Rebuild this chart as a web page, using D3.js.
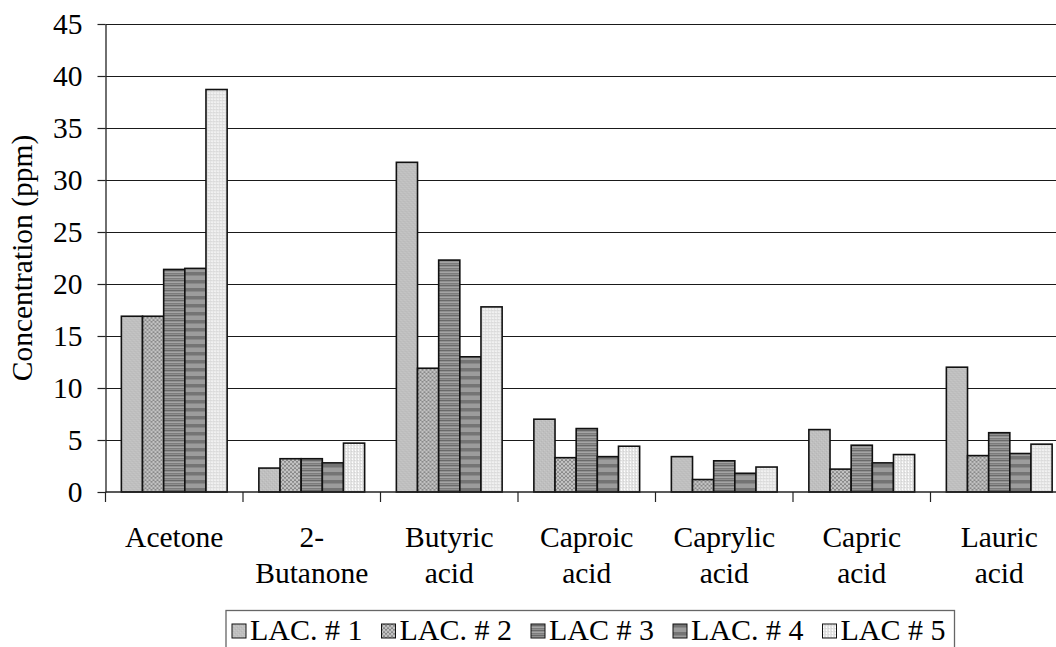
<!DOCTYPE html>
<html>
<head>
<meta charset="utf-8">
<script src="https://cdn.jsdelivr.net/npm/d3@7"></script>
<style>
  html, body { margin: 0; padding: 0; background: #fff; }
  svg { display: block; }
</style>
</head>
<body>
<svg id="chart" width="1056" height="647"></svg>
<script>
// Volatile compounds measured for five LAC cultures (ppm)
const categories = [["Acetone"], ["2-", "Butanone"], ["Butyric", "acid"], ["Caproic", "acid"],
                    ["Caprylic", "acid"], ["Capric", "acid"], ["Lauric", "acid"]];
const seriesNames = ["LAC. # 1", "LAC. # 2", "LAC # 3", "LAC. # 4", "LAC # 5"];
const lac1 = [16.9, 2.3, 31.7, 7.0, 3.4, 6.0, 12.0];
const lac2 = [16.9, 3.2, 11.9, 3.3, 1.2, 2.2, 3.5];
const lac3 = [21.4, 3.2, 22.3, 6.1, 3.0, 4.5, 5.7];
const lac4 = [21.5, 2.8, 13.0, 3.4, 1.8, 2.8, 3.7];
const lac5 = [38.7, 4.7, 17.8, 4.4, 2.4, 3.6, 4.6];
const yTicks = [0, 5, 10, 15, 20, 25, 30, 35, 40, 45];
const yTitle = "Concentration (ppm)";

const seriesValues = [lac1, lac2, lac3, lac4, lac5];
const catKeys = categories.map(c => c.join(" "));

const SERIF = "Liberation Serif, Tinos, Times New Roman, DejaVu Serif, serif";
const FONT = 29.5;
const svg = d3.select("#chart").attr("font-family", SERIF);

// plot frame (the right end runs slightly past the canvas)
const plotLeft = 105.5, plotRight = 1068, plotTop = 24, plotBottom = 492;

const x = d3.scaleBand().domain(catKeys).range([plotLeft, plotRight]).paddingInner(0).paddingOuter(0);
const gapRatio = 1.5; // gap between groups relative to bar width
const barW = x.bandwidth() / (seriesNames.length + gapRatio);
const xInner = d3.scaleBand().domain(d3.range(seriesNames.length))
  .range([barW * gapRatio / 2, barW * gapRatio / 2 + barW * seriesNames.length]);
const y = d3.scaleLinear().domain([0, 45]).range([plotBottom, plotTop]);

// fill patterns for each series
const defs = svg.append("defs");
function pat(id, w, h, bg, rects) {
  const p = defs.append("pattern").attr("id", id).attr("patternUnits", "userSpaceOnUse")
    .attr("width", w).attr("height", h);
  p.append("rect").attr("width", w).attr("height", h).attr("fill", bg);
  rects.forEach(r => p.append("rect").attr("x", r[0]).attr("y", r[1])
    .attr("width", r[2]).attr("height", r[3]).attr("fill", r[4]));
}
// 1: light grey with faint grain
pat("p1", 4, 4, "#bfbfbf", [[0,0,1,1,"#c8c8c8"],[2,2,1,1,"#c8c8c8"],[1,3,1,1,"#b6b6b6"],[3,1,1,1,"#b6b6b6"]]);
// 2: fine crosshatch
pat("p2", 4, 4, "#c2c2c2", [[0,0,1,1,"#8a8a8a"],[3,0,1,1,"#8a8a8a"],[1,1,1,1,"#8a8a8a"],[2,1,1,1,"#8a8a8a"],
                            [1,2,1,1,"#9a9a9a"],[2,2,1,1,"#9a9a9a"],[0,3,1,1,"#9a9a9a"],[3,3,1,1,"#9a9a9a"]]);
// 3: narrow horizontal stripes
pat("p3", 4, 5, "#909090", [[0,0,4,1,"#6a6a6a"],[0,2,4,1,"#a5a5a5"],[0,3,4,1,"#7c7c7c"]]);
// 4: wide horizontal bands
pat("p4", 4, 8, "#9c9c9c", [[0,0,4,3,"#747474"],[0,3,4,1,"#888888"]]);
// 5: pale dotted columns
pat("p5", 3, 3, "#e2e2e2", [[1,0,1,1,"#ffffff"],[1,2,1,1,"#f4f4f4"],[0,1,1,1,"#d4d4d4"]]);
const fills = ["url(#p1)", "url(#p2)", "url(#p3)", "url(#p4)", "url(#p5)"];

// horizontal gridlines
svg.append("g").selectAll("line").data(yTicks.filter(t => t > 0)).join("line")
  .attr("x1", plotLeft).attr("x2", plotRight)
  .attr("y1", d => Math.round(y(d)) + 0.5).attr("y2", d => Math.round(y(d)) + 0.5)
  .attr("stroke", "#1a1a1a").attr("stroke-width", 1.2);

// bars
const groups = svg.append("g").selectAll("g").data(catKeys).join("g")
  .attr("transform", d => `translate(${x(d)},0)`);
groups.selectAll("rect")
  .data((d, ci) => seriesValues.map((vals, si) => ({ si, v: vals[ci] })))
  .join("rect")
  .attr("x", d => xInner(d.si))
  .attr("width", xInner.bandwidth())
  .attr("y", d => y(d.v))
  .attr("height", d => y(0) - y(d.v))
  .attr("fill", d => fills[d.si])
  .attr("stroke", "#111").attr("stroke-width", 1.6);

// y axis
const yAxis = svg.append("g").attr("transform", `translate(${plotLeft},0)`)
  .call(d3.axisLeft(y).tickValues(yTicks).tickSize(8).tickPadding(15).tickSizeOuter(0))
  .attr("font-family", SERIF).attr("font-size", FONT);
yAxis.select(".domain").attr("stroke", "#222").attr("stroke-width", 1.3);
yAxis.selectAll(".tick line").attr("stroke", "#222").attr("stroke-width", 1.2);
yAxis.selectAll(".tick text").attr("fill", "#000");

// x axis baseline and category dividers
svg.append("line").attr("x1", plotLeft).attr("x2", plotRight)
  .attr("y1", plotBottom).attr("y2", plotBottom).attr("stroke", "#222").attr("stroke-width", 1.3);
const dividers = catKeys.map(k => x(k)).concat([x(catKeys[catKeys.length - 1]) + x.bandwidth()]);
svg.append("g").selectAll("line").data(dividers).join("line")
  .attr("x1", d => d).attr("x2", d => d)
  .attr("y1", plotBottom).attr("y2", plotBottom + 10)
  .attr("stroke", "#222").attr("stroke-width", 1.2);

// category labels
const catText = svg.append("g").attr("font-size", FONT).selectAll("text").data(categories).join("text")
  .attr("text-anchor", "middle")
  .attr("x", (d, i) => x(catKeys[i]) + x.bandwidth() / 2)
  .attr("y", 547);
catText.selectAll("tspan").data(d => d).join("tspan")
  .attr("x", function () { return d3.select(this.parentNode).attr("x"); })
  .attr("dy", (d, i) => i === 0 ? 0 : 36)
  .text(d => d);

// y axis title
svg.append("text")
  .attr("transform", `translate(32,${(plotTop + plotBottom) / 2}) rotate(-90)`)
  .attr("text-anchor", "middle")
  .attr("font-size", FONT)
  .text(yTitle);

// legend
const legend = svg.append("g").attr("font-size", 30);
const legBox = legend.append("rect").attr("fill", "#fff").attr("stroke", "#666").attr("stroke-width", 1.3);
const legLeft = 226;
let lx = legLeft + 6;
const ly = 640;
const keySize = 14;
seriesNames.forEach((name, i) => {
  legend.append("rect").attr("x", lx).attr("y", ly - 16).attr("width", keySize).attr("height", keySize)
    .attr("fill", fills[i]).attr("stroke", "#111").attr("stroke-width", 1);
  const t = legend.append("text").attr("x", lx + keySize + 4).attr("y", ly).text(name);
  lx += keySize + 4 + t.node().getComputedTextLength() + 19;
});
legBox.attr("x", legLeft).attr("y", 610.5).attr("width", lx - legLeft - 10).attr("height", 50);
</script>
</body>
</html>
